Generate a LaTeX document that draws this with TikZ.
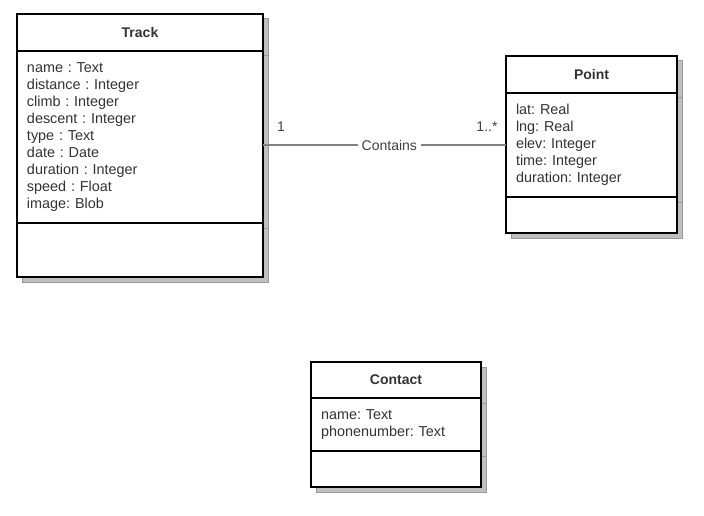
\documentclass[tikz,border=0pt]{standalone}
\usepackage{fontspec}
\setmainfont{Liberation Sans}
\usetikzlibrary{positioning,shadows}
\frenchspacing

\begin{document}
\begin{tikzpicture}[x=1pt,y=-1pt,
    classbox/.style={draw=black, line width=1.6pt, fill=white, inner sep=0pt, outer sep=0pt,
        general shadow={shadow xshift=5pt, shadow yshift=-5pt, fill=black!25, draw=black!40, line width=1pt}},
    classhead/.style={classbox, anchor=north west, font=\fontsize{14}{17}\selectfont\bfseries, text=black!80},
    classattr/.style={classbox, align=left, inner xsep=10pt, font=\fontsize{14.4}{17}\selectfont, text=black!80},
    assoc/.style={draw=black!50, line width=1.2pt},
    multlabel/.style={font=\fontsize{14}{17}\selectfont, text=black!75}]
    \useasboundingbox (0,0) rectangle (704,516);

    % Track class
    \node[classhead, minimum width=246pt, minimum height=37pt] (trackhead) at (17,14) {Track};
    \node[classattr, text width=226pt, minimum height=172pt, below=0pt of trackhead.south west, anchor=north west] (trackattr)
        {name : Text\\distance : Integer\\climb : Integer\\descent : Integer\\type : Text\\date : Date\\duration : Integer\\speed : Float\\image: Blob};
    \node[classbox, minimum width=246pt, minimum height=54pt, below=0pt of trackattr.south west, anchor=north west] (trackops) {};

    % Point class
    \node[classhead, minimum width=171pt, minimum height=37pt] (pointhead) at (506,56) {Point};
    \node[classattr, text width=151pt, minimum height=104pt, below=0pt of pointhead.south west, anchor=north west] (pointattr)
        {lat: Real\\lng: Real\\elev: Integer\\time: Integer\\duration: Integer};
    \node[classbox, minimum width=171pt, minimum height=36pt, below=0pt of pointattr.south west, anchor=north west] (pointops) {};

    % Contact class
    \node[classhead, minimum width=170pt, minimum height=36pt] (contacthead) at (311,362) {Contact};
    \node[classattr, text width=150pt, minimum height=53pt, below=0pt of contacthead.south west, anchor=north west] (contactattr)
        {name: Text\\phonenumber: Text};
    \node[classbox, minimum width=170pt, minimum height=36pt, below=0pt of contactattr.south west, anchor=north west] (contactops) {};

    % Association
    \draw[assoc] (pointattr.west -| trackattr.east) -- node[pos=0.52, fill=white, inner xsep=4pt, multlabel] (contains) {Contains} (pointattr.west);
    \node[multlabel] (trackmult) at (281,127) {1};
    \node[multlabel] (pointmult) at (487,127) {1..*};
\end{tikzpicture}
\end{document}
